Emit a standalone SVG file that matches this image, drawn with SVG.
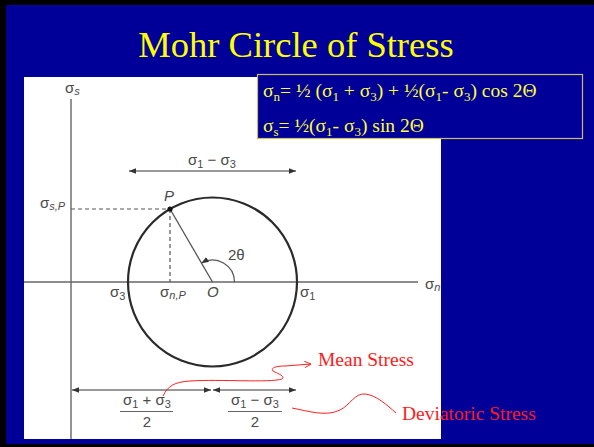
<svg xmlns="http://www.w3.org/2000/svg" width="594" height="447" viewBox="0 0 594 447">
<defs>
<style>
.lbl{font-family:"Liberation Sans",Arial,sans-serif;font-size:15px;fill:#4a4a4a}
.it{font-style:italic}
.sub{font-size:11px}
.eq{font-family:"Liberation Serif","Times New Roman",serif;font-size:19.5px;fill:#ffff33}
.eqs{font-size:13px}
.red{font-family:"Liberation Serif","Times New Roman",serif;font-size:19.5px;fill:#ff1a1a}
.axis{stroke:#666;stroke-width:1.4;fill:none}
.dash{stroke:#555;stroke-width:1.2;stroke-dasharray:4 3;fill:none}
.dim{stroke:#777;stroke-width:1.4;fill:none}
.rc{stroke:#ff2020;stroke-width:1;fill:none}
</style>
<marker id="ah" viewBox="0 0 10 10" refX="10" refY="5" markerWidth="7" markerHeight="7" orient="auto-start-reverse" markerUnits="userSpaceOnUse">
<path d="M0,1 L10,5 L0,9 Z" fill="#333"/>
</marker>
<marker id="ra" viewBox="0 0 10 10" refX="9" refY="5" markerWidth="8" markerHeight="8" orient="auto" markerUnits="userSpaceOnUse">
<path d="M1,1 L9,5 L1,9" fill="none" stroke="#ff2020" stroke-width="1.2"/>
</marker>
</defs>
<rect x="0" y="0" width="594" height="447" fill="#000"/>
<rect x="6" y="5" width="588" height="439" fill="#000099"/>
<text x="296" y="57" text-anchor="middle" font-family="'Liberation Serif','Times New Roman',serif" font-size="36.5" fill="#ffff00">Mohr Circle of Stress</text>
<rect x="24" y="77" width="417" height="362" fill="#fff"/>

<g id="formula">
<rect x="257.5" y="74.5" width="325" height="64" fill="#000099" stroke="#c8c060" stroke-width="1.2"/>
<text class="eq" x="263" y="97">σ<tspan class="eqs" dy="4">n</tspan><tspan dy="-4">= ½ (σ</tspan><tspan class="eqs" dy="4">1</tspan><tspan dy="-4"> + σ</tspan><tspan class="eqs" dy="4">3</tspan><tspan dy="-4">) + ½(σ</tspan><tspan class="eqs" dy="4">1</tspan><tspan dy="-4">- σ</tspan><tspan class="eqs" dy="4">3</tspan><tspan dy="-4">) cos 2Θ</tspan></text>
<text class="eq" x="263" y="132">σ<tspan class="eqs" dy="4">s</tspan><tspan dy="-4">= ½(σ</tspan><tspan class="eqs" dy="4">1</tspan><tspan dy="-4">- σ</tspan><tspan class="eqs" dy="4">3</tspan><tspan dy="-4">) sin 2Θ</tspan></text>
</g>

<g id="axes">
<line class="axis" x1="71" y1="99" x2="71" y2="439"/>
<line class="axis" x1="24" y1="282" x2="418" y2="282"/>
<text class="lbl" x="65" y="93">σ<tspan class="sub it" dy="2">s</tspan></text>
<text class="lbl" x="425" y="289">σ<tspan class="sub it" dy="2">n</tspan></text>
</g>

<g id="circle">
<circle cx="212.5" cy="282" r="84.5" fill="none" stroke="#2a2a2a" stroke-width="2.2"/>
</g>

<g id="connectors">
<line class="dash" x1="71" y1="209" x2="170" y2="209"/>
<line class="dash" x1="170" y1="209" x2="170" y2="282"/>
<line x1="170" y1="209" x2="212.5" y2="282" stroke="#555" stroke-width="1.3"/>
<path d="M234.5,282 A22,22 0 0 0 201.5,263" fill="none" stroke="#555" stroke-width="1.2" marker-end="url(#ah)"/>
<line class="dim" x1="129" y1="171" x2="296" y2="171" marker-start="url(#ah)" marker-end="url(#ah)"/>
<line class="dim" x1="72" y1="390" x2="211" y2="390" marker-start="url(#ah)" marker-end="url(#ah)"/>
<line class="dim" x1="213" y1="390" x2="296" y2="390" marker-start="url(#ah)" marker-end="url(#ah)"/>
<path class="rc" d="M163,396 C168,386 174,382 190,381 C220,379 270,383 282,379 C286,376 276,373 273,371 C270,368 276,366 285,366 L311,364" marker-end="url(#ra)"/>
<path class="rc" d="M292,408 C308,411 326,417 340,410 C350,405 355,393 365,394 C376,395 387,405 396,413"/>
</g>

<g id="point-P">
<circle cx="170" cy="209" r="2.6" fill="#111"/>
<text class="lbl it" x="164" y="201">P</text>
<text class="lbl" x="40" y="208">σ<tspan class="sub it" dy="2">s,P</tspan></text>
</g>

<g id="labels">
<text class="lbl" x="212" y="165" text-anchor="middle">σ<tspan class="sub" dy="3">1</tspan><tspan dy="-3"> − σ</tspan><tspan class="sub" dy="3">3</tspan></text>
<text class="lbl" x="228" y="260">2θ</text>
<text class="lbl" x="110" y="297">σ<tspan class="sub" dy="3">3</tspan></text>
<text class="lbl" x="160" y="297">σ<tspan class="sub it" dy="2">n,P</tspan></text>
<text class="lbl it" x="207" y="297" font-size="16">O</text>
<text class="lbl" x="300" y="297">σ<tspan class="sub" dy="3">1</tspan></text>
</g>

<g id="fraction-mean">
<text class="lbl" x="147" y="405" text-anchor="middle">σ<tspan class="sub" dy="3">1</tspan><tspan dy="-3"> + σ</tspan><tspan class="sub" dy="3">3</tspan></text>
<line x1="120" y1="411.5" x2="173" y2="411.5" stroke="#666" stroke-width="1.2"/>
<text class="lbl" x="147" y="427" text-anchor="middle">2</text>
</g>

<g id="fraction-dev">
<text class="lbl" x="255" y="405" text-anchor="middle">σ<tspan class="sub" dy="3">1</tspan><tspan dy="-3"> − σ</tspan><tspan class="sub" dy="3">3</tspan></text>
<line x1="228" y1="411.5" x2="282" y2="411.5" stroke="#666" stroke-width="1.2"/>
<text class="lbl" x="255" y="427" text-anchor="middle">2</text>
</g>

<g id="mean-stress">
<text class="red" x="318" y="366">Mean Stress</text>
</g>
<g id="deviatoric-stress">
<text class="red" x="402" y="420">Deviatoric Stress</text>
</g>
</svg>
